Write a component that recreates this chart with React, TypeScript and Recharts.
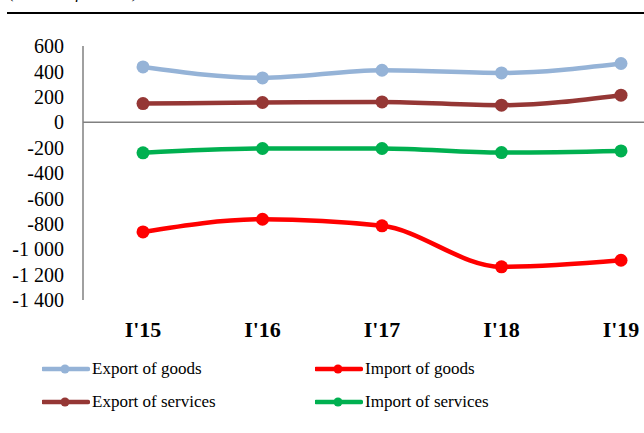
import { LineChart, Line, XAxis, YAxis, ReferenceLine } from "recharts";

const quarters = ["I'15", "I'16", "I'17", "I'18", "I'19"];
const exportGoods = [435, 349, 409, 388, 462];
const importGoods = [-864, -764, -816, -1139, -1087];
const exportServices = [147, 155, 160, 134, 213];
const importServices = [-241, -207, -207, -239, -226];
const yTicks = [600, 400, 200, 0, -200, -400, -600, -800, -1000, -1200, -1400];

const SERIES = [
  { key: "exportGoods", name: "Export of goods", color: "#95B3D7" },
  { key: "importGoods", name: "Import of goods", color: "#FF0000" },
  { key: "exportServices", name: "Export of services", color: "#953735" },
  { key: "importServices", name: "Import of services", color: "#00B050" },
];

const data = quarters.map((q, i) => ({
  quarter: q,
  exportGoods: exportGoods[i],
  importGoods: importGoods[i],
  exportServices: exportServices[i],
  importServices: importServices[i],
}));

const FONT = '"Liberation Serif", "Times New Roman", serif';

// thousands with a space, like the source ("-1 400")
const fmt = (v: number) => {
  const s = Math.abs(v).toString().replace(/\B(?=(\d{3})+(?!\d))/g, " ");
  return (v < 0 ? "-" : "") + s;
};

function LegendItem({ name, color, x, y }: { name: string; color: string; x: number; y: number }) {
  return (
    <div
      style={{
        position: "absolute",
        left: x,
        top: y - 11,
        height: 22,
        display: "flex",
        alignItems: "center",
        fontFamily: FONT,
        fontSize: 17,
        color: "#000",
        whiteSpace: "nowrap",
      }}
    >
      <svg width={48} height={12} style={{ marginRight: 2 }}>
        <line x1={1} y1={6} x2={46} y2={6} stroke={color} strokeWidth={4.5} strokeLinecap="round" />
        <circle cx={23} cy={6} r={4.5} fill={color} />
      </svg>
      {name}
    </div>
  );
}

export default function App() {
  const legendPos = [
    { x: 42, y: 369 },
    { x: 315, y: 369 },
    { x: 42, y: 402 },
    { x: 315, y: 402 },
  ];
  return (
    <div
      style={{
        position: "absolute",
        left: 0,
        top: 0,
        width: 644,
        height: 433,
        overflow: "hidden",
        background: "#fff",
      }}
    >
      {/* unit caption, cropped at the top edge as in the source */}
      <div
        style={{
          position: "absolute",
          left: 9,
          top: -16,
          fontFamily: FONT,
          fontStyle: "italic",
          fontSize: 17,
          lineHeight: "17px",
          whiteSpace: "nowrap",
        }}
      >
        (million of dollars)
      </div>
      <div style={{ position: "absolute", left: 7, top: 12, width: 640, height: 2, background: "#000" }} />

      <LineChart
        width={681}
        height={433}
        data={data}
        margin={{ top: 46, right: 0, left: 0, bottom: 103 }}
        style={{ fontFamily: FONT }}
      >
        <XAxis
          dataKey="quarter"
          axisLine={false}
          tickLine={false}
          tickSize={0}
          tickMargin={21}
          height={30}
          padding={{ left: 60, right: 60 }}
          tick={{ fontSize: 22, fontWeight: "bold", fill: "#000" }}
          interval={0}
        />
        <YAxis
          domain={[-1400, 600]}
          ticks={yTicks}
          interval={0}
          width={83}
          axisLine={{ stroke: "#808080", strokeWidth: 1.5 }}
          tickLine={false}
          tickSize={0}
          tickMargin={19}
          tickFormatter={fmt}
          tick={{ fontSize: 20, fill: "#000" }}
        />
        <ReferenceLine y={0} stroke="#808080" strokeWidth={1.5} />
        {SERIES.map((s) => (
          <Line
            key={s.key}
            type="monotone"
            dataKey={s.key}
            name={s.name}
            stroke={s.color}
            strokeWidth={4.5}
            dot={{ r: 6.5, fill: s.color, stroke: s.color, strokeWidth: 0 }}
            activeDot={false}
            isAnimationActive={false}
          />
        ))}
      </LineChart>

      {SERIES.map((s, i) => (
        <LegendItem key={s.key} name={s.name} color={s.color} x={legendPos[i].x} y={legendPos[i].y} />
      ))}
    </div>
  );
}
